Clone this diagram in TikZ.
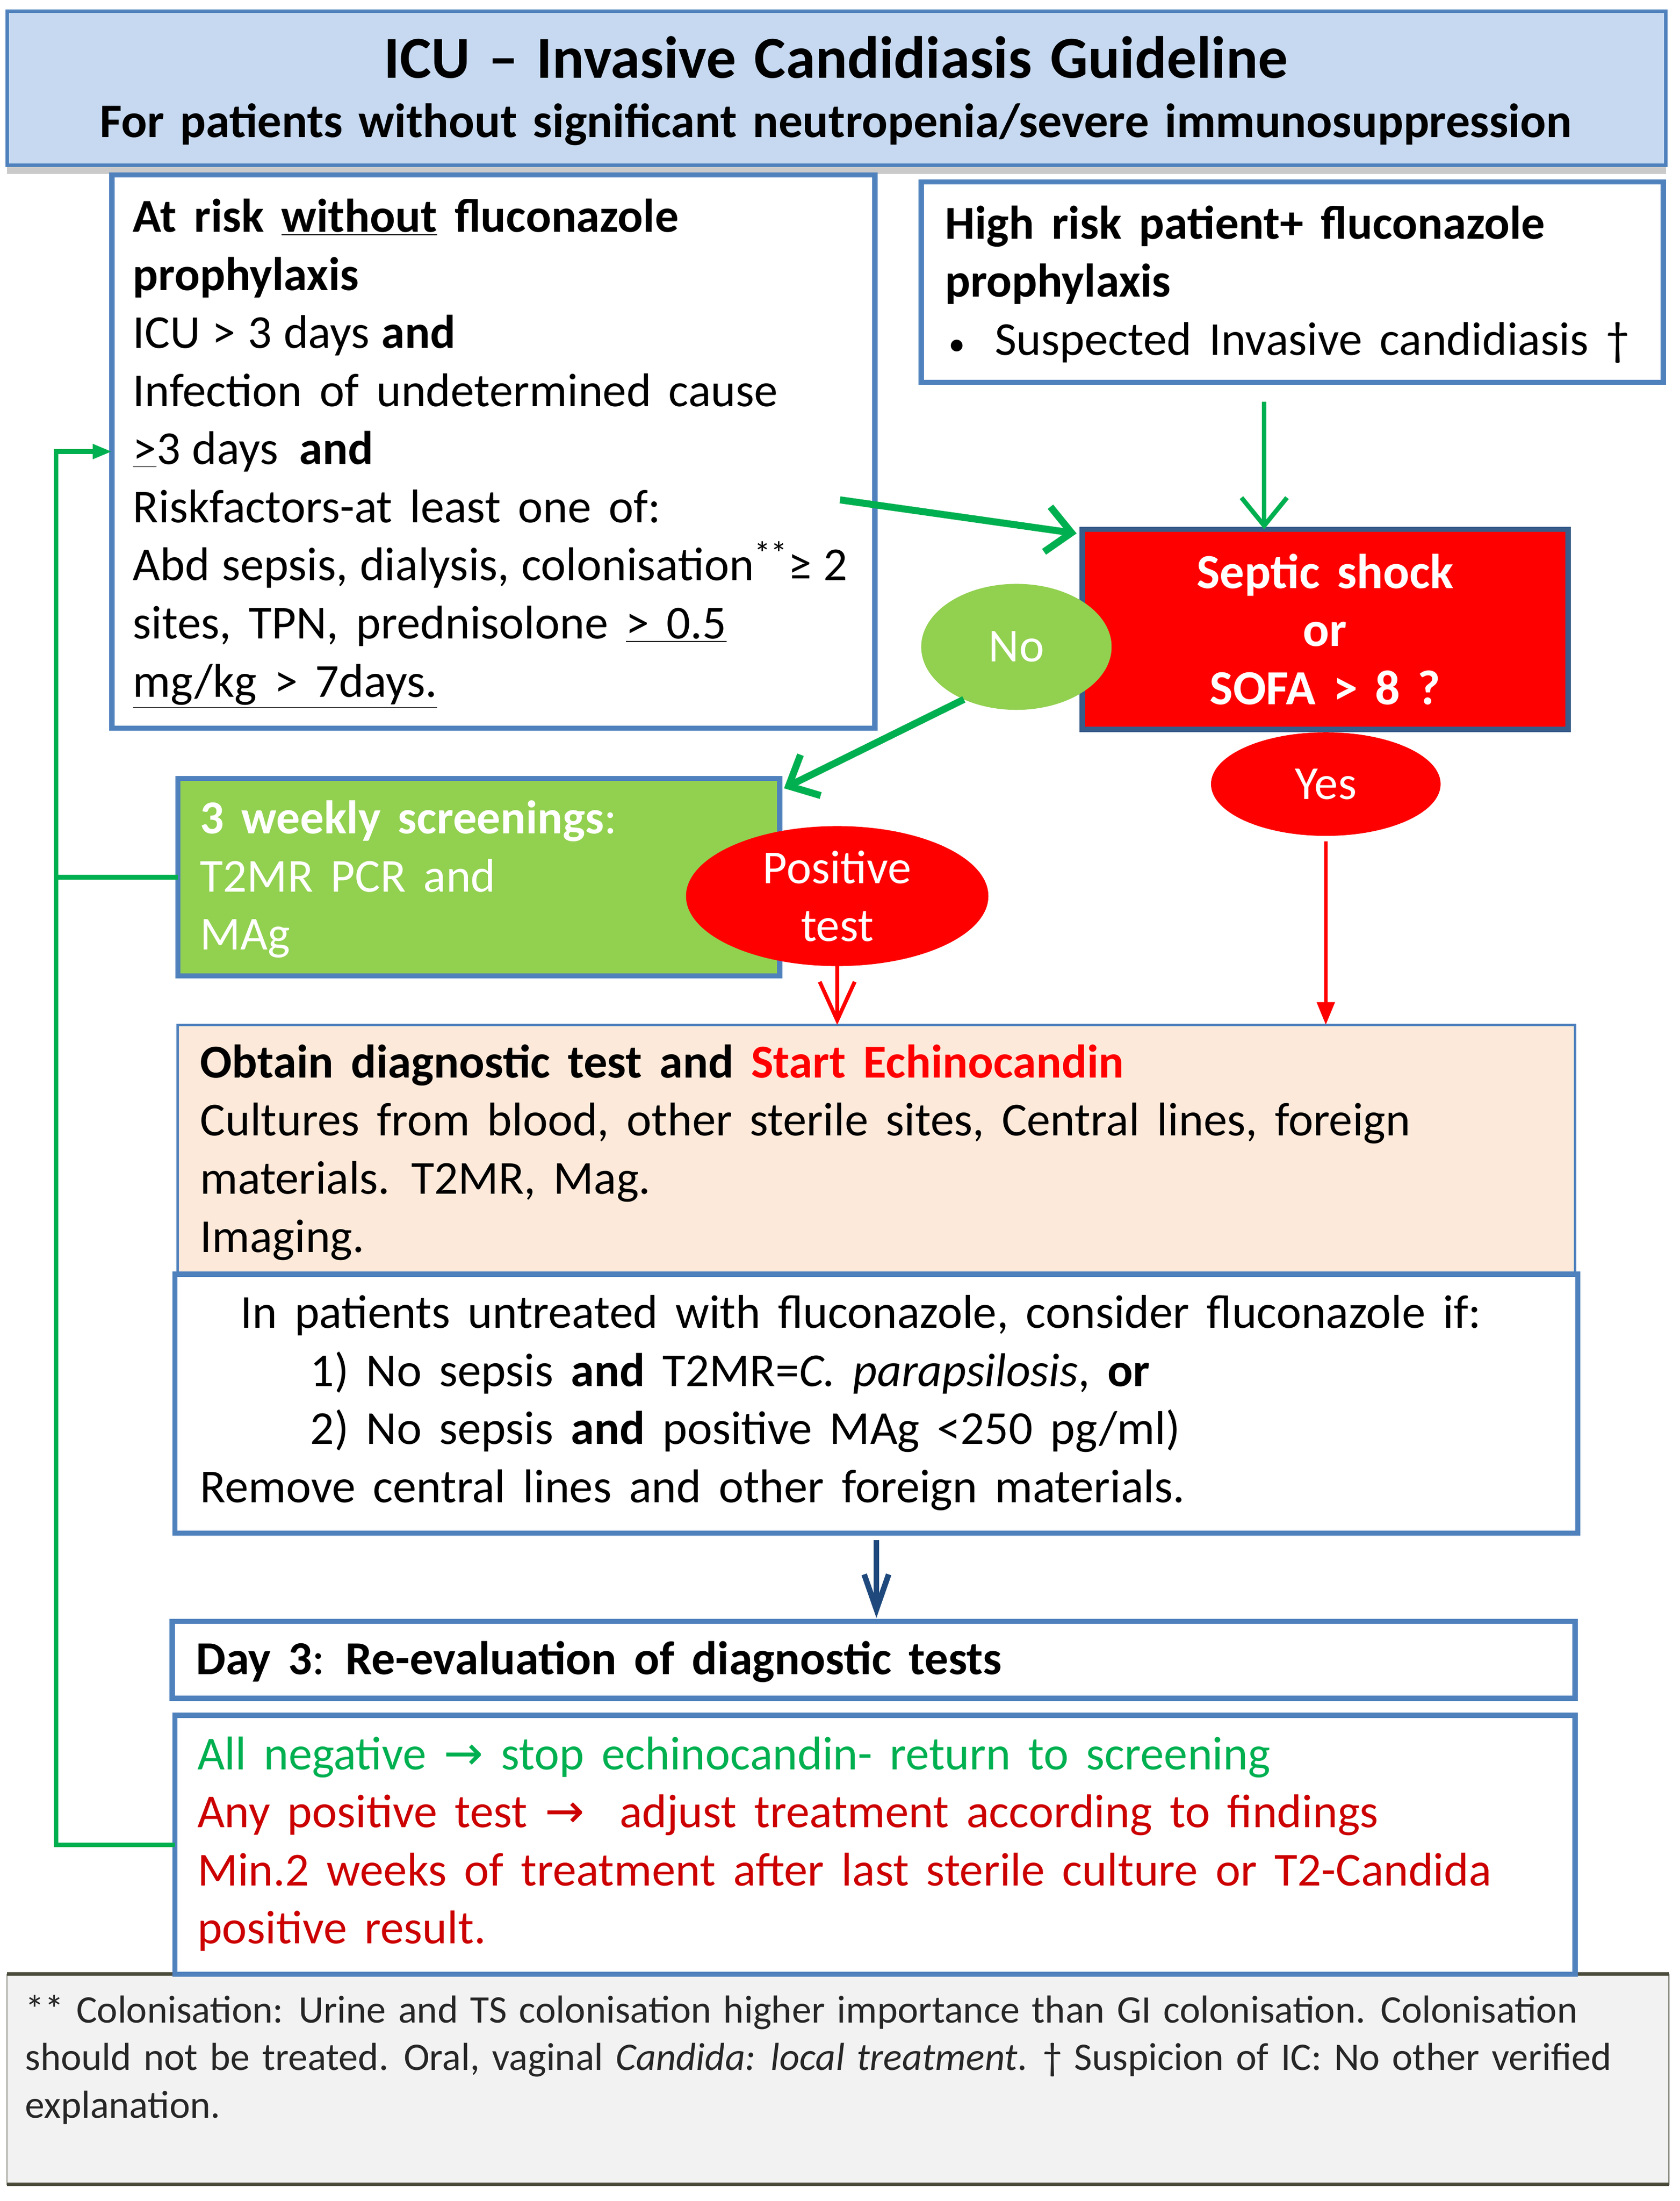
\documentclass[tikz,border=0pt]{standalone}
\usepackage{fontspec}
\setmainfont{Carlito}
\newfontfamily\djv{DejaVu Sans}
\usetikzlibrary{arrows.meta,shapes.geometric,shadows,calc}
\definecolor{bbord}{HTML}{4F81BD}
\definecolor{titlefill}{HTML}{C6D9F1}
\definecolor{gfill}{HTML}{92D050}
\definecolor{garr}{HTML}{00B050}
\definecolor{sepbord}{HTML}{385D8A}
\definecolor{diagfill}{HTML}{FDE9D9}
\definecolor{darrow}{HTML}{1F497D}
\definecolor{rtext}{HTML}{CC0000}
\definecolor{gtext}{HTML}{00B050}
\definecolor{fnfill}{HTML}{F2F2F2}
\definecolor{fnbord}{HTML}{4A4A3A}
\definecolor{ftext}{HTML}{262626}
\newcommand\bodyf{\fontsize{27}{33.2}\selectfont\spaceskip=10pt plus 3pt minus 2pt\relax}
\newcommand\footf{\fontsize{22.3}{27.2}\selectfont\spaceskip=7pt plus 2pt minus 1pt\relax}
\newcommand\titlef{\bfseries\fontsize{34}{38}\selectfont\spaceskip=10.5pt\relax}
\newcommand\subtitlef{\bfseries\fontsize{27.5}{32}\selectfont\spaceskip=9pt\relax}
\newcommand\septicf{\bfseries\fontsize{28}{33.2}\selectfont\spaceskip=10pt\relax}
\newcommand\narrowsp{\spaceskip=6.8pt plus 2pt minus 1pt\relax}
\begin{document}
\begin{tikzpicture}[x=0.8pt,y=-0.8pt,
  every node/.style={inner sep=0pt, outer sep=0pt},
  bluebox/.style={rectangle, draw=bbord, line width=3pt},
  txt/.style={anchor=west, align=left, font=\bodyf},
  garrow/.style={draw=garr, line width=4pt, -{Straight Barb[length=14pt,width=26pt]}},
  garrowthin/.style={draw=garr, line width=2.6pt, -{Straight Barb[length=16pt,width=26pt]}},
  rarrowv/.style={draw=red, line width=2.2pt, -{Straight Barb[length=22pt,width=20pt]}},
  rarrowt/.style={draw=red, line width=2pt, -{Triangle[length=13pt,width=10pt]}},
  barrow/.style={draw=darrow, line width=3.2pt, -{Straight Barb[length=20pt,width=14pt]}},
  gline/.style={draw=garr, line width=2.6pt},
  oval/.style={ellipse, fill=red, text=white, align=center, font=\bodyf}
]
\useasboundingbox (0,0) rectangle (1200,1572);

% title
\node[rectangle, draw=bbord, line width=2pt, fill=titlefill, minimum width=948pt, minimum height=88pt,
  drop shadow={shadow xshift=0pt,shadow yshift=-5pt,fill=black!60,opacity=0.35}] (title) at (597.5,63) {};
\node[font=\titlef] (titletext) at (597,41) {ICU – Invasive Candidiasis Guideline};
\node[font=\subtitlef] (subtitle) at (597,89) {For patients without significant neutropenia/severe immunosuppression};

% footnote box (drawn first)
\node[rectangle, draw=fnbord!60, line width=0.8pt, fill=fnfill, minimum width=949.6pt, minimum height=120pt] (foot) at (598.5,1485) {};
\draw[fnbord, line width=2pt] (foot.north west) -- (foot.north east);
\draw[fnbord, line width=2pt] (foot.south west) -- (foot.south east);
\node[txt, text=ftext, font=\footf] (foottext) at (18,1471) {%
** Colonisation: Urine and TS colonisation higher importance than GI colonisation. Colonisation\\
should not be treated. Oral, vaginal \textit{Candida: local treatment}. † Suspicion of IC: No other verified\\
explanation.};

% left box
\node[bluebox, fill=white, minimum width=436pt, minimum height=316pt] (leftbox) at (352.5,322.5) {};
\node[txt] (lefttext) at (95,324) {%
\textbf{At risk \underline{without} fluconazole}\\
\textbf{prophylaxis}\\
{\narrowsp ICU > 3 days \textbf{and}}\\
Infection of undetermined cause\\
{\narrowsp\underline{>}3 days\hspace{12pt}\textbf{and}}\\
Riskfactors-at least one of:\\
{\narrowsp Abd sepsis, dialysis, colonisation\textsuperscript{**}≥ 2}\\
sites, TPN, prednisolone \underline{> 0.5}\\
\underline{mg/kg > 7days.}};

% right box
\node[bluebox, fill=white, minimum width=424pt, minimum height=114.4pt] (rightbox) at (923,201.5) {};
\node[txt] (righttext) at (675,203) {%
\textbf{High risk patient+ fluconazole}\\
\textbf{prophylaxis}\\
\hspace*{2pt}{\fontsize{19}{19}\selectfont •}\hspace{17pt}Suspected Invasive candidiasis †};

% septic box
\node[rectangle, draw=sepbord, line width=3pt, fill=red, minimum width=277.6pt, minimum height=114.4pt,
  text=white, align=center, font=\septicf] (septic) at (946.5,449.5)
  {Septic shock\\or\\SOFA > 8 ?};

% No ellipse
\node[ellipse, fill=gfill, text=white, minimum width=108.8pt, minimum height=72pt,
  font=\bodyf] (no) at (726,462) {No};

% screening box
\node[bluebox, fill=gfill, minimum width=344pt, minimum height=112.8pt] (screening) at (342,626.5) {};
\node[txt, text=white] (screentext) at (143,628) {%
\textbf{3 weekly screenings}:\\
T2MR PCR and\\
MAg};

% positive test ellipse
\node[oval, minimum width=172.8pt, minimum height=80pt] (positive) at (598,640) {Positive\\test};

% yes ellipse
\node[oval, minimum width=131.2pt, minimum height=59.2pt] (yes) at (947,560) {Yes};

% diagnostic box
\node[rectangle, draw=bbord, line width=1.5pt, fill=diagfill, minimum width=798.4pt, minimum height=142.4pt] (diag) at (626,821) {};
\node[txt] (diagtext) at (143,823) {%
\textbf{Obtain diagnostic test and} {\color{red}\bfseries Start Echinocandin}\\
Cultures from blood, other sterile sites, Central lines, foreign\\
materials. T2MR, Mag.\\
Imaging.};

% fluconazole box
\node[bluebox, fill=white, minimum width=801.6pt, minimum height=148pt] (fluco) at (626,1002.5) {};
\node[txt] (flucotext) at (143,1002) {%
\hspace*{23pt}In patients untreated with fluconazole, consider fluconazole if:\\
\hspace*{63pt}1) No sepsis \textbf{and} T2MR=\textit{C. parapsilosis}, \textbf{or}\\
\hspace*{63pt}2) No sepsis \textbf{and} positive MAg <250 pg/ml)\\
Remove central lines and other foreign materials.};

% day 3 box
\node[bluebox, fill=white, minimum width=801.6pt, minimum height=44pt] (day3) at (624,1185.5) {};
\node[txt] (day3text) at (140,1187) {\textbf{Day 3}: \textbf{Re-evaluation of diagnostic tests}};

% result box
\node[bluebox, fill=white, minimum width=800pt, minimum height=148pt] (result) at (625,1317.5) {};
\node[txt, text=rtext] (resulttext) at (141,1317) {%
{\color{gtext}All negative {\djv →} stop echinocandin- return to screening}\\
Any positive test {\djv →}\ \ adjust treatment according to findings\\
Min.2 weeks of treatment after last sterile culture or T2-Candida\\
positive result.};

% connectors
\coordinate (a1) at (600,357);
\draw[garrow] (a1) -- ($(septic.north west)+(-4,3)$);
\coordinate (rb) at (903,287);
\draw[garrowthin] (rb) -- (rb |- septic.north);
\draw[garrow] (no.225) -- ($(screening.north east)+(3,7)$);
\draw[rarrowv] (positive.south) -- (positive.south |- diag.north);
\draw[rarrowt] ([yshift=-3pt]yes.south) -- (yes.south |- diag.north);
\draw[barrow] ([yshift=-4pt]fluco.south) -- ([yshift=2pt]fluco.south |- day3.north);

\coordinate (loop) at (40,0);
\draw[gline, -{Triangle[length=11pt,width=8pt]}] (result.west) -- (result.west -| loop) -- (loop |- leftbox.west) -- (leftbox.west);
\draw[gline] (screening.west) -- (screening.west -| loop);
\end{tikzpicture}
\end{document}
